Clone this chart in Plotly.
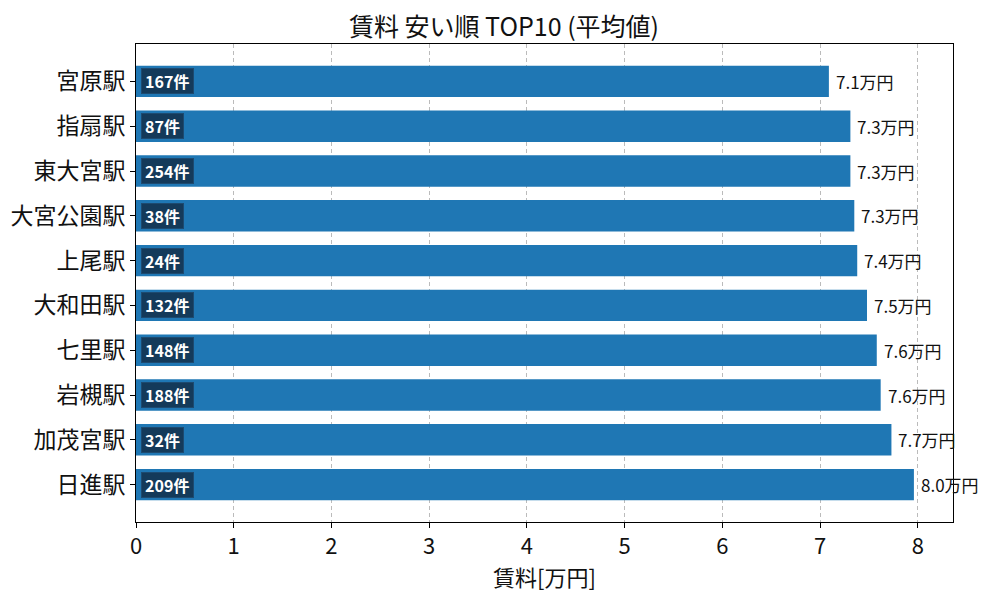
import plotly.graph_objects as go

stations = ["宮原駅", "指扇駅", "東大宮駅", "大宮公園駅", "上尾駅", "大和田駅", "七里駅", "岩槻駅", "加茂宮駅", "日進駅"]
rent = [7.09, 7.31, 7.31, 7.35, 7.38, 7.48, 7.58, 7.62, 7.73, 7.96]
counts = [167, 87, 254, 38, 24, 132, 148, 188, 32, 209]
x_ticks = [0, 1, 2, 3, 4, 5, 6, 7, 8]

FONT = "Noto Sans CJK JP"

fig = go.Figure()
fig.add_trace(go.Bar(
    x=rent, y=stations, orientation="h", width=0.7,
    marker=dict(color="#1f77b4", line=dict(width=0)),
    hoverinfo="skip",
))

for s, v, c in zip(stations, rent, counts):
    label = f"{c}件"
    fig.add_annotation(
        x=0, y=s, xref="x", yref="y", text=f"<b>{label}</b>", showarrow=False,
        xanchor="left", xshift=5, font=dict(family=FONT, size=16, color="white"),
        bgcolor="#143a5a", bordercolor="#1d4a70", borderwidth=1, borderpad=0,
        height=24, width=len(str(c)) * 9.5 + 22, align="center",
    )
    fig.add_annotation(
        x=v, y=s, xref="x", yref="y", text=f"{v:.1f}万円", showarrow=False,
        xanchor="left", xshift=5, font=dict(family=FONT, size=17, color="#111"),
    )

n = len(stations)
fig.update_layout(
    width=992, height=592,
    margin=dict(l=128, r=47, t=36, b=78, autoexpand=False),
    paper_bgcolor="white", plot_bgcolor="white",
    title=dict(text="賃料 安い順 TOP10 (平均値)", x=0.5, xanchor="center", y=0.968, yanchor="middle",
               font=dict(family=FONT, size=25, color="#111")),
    showlegend=False,
    font=dict(family=FONT),
)
fig.update_xaxes(
    range=[0, 8.36], tickvals=x_ticks, ticktext=[str(t) for t in x_ticks],
    tickfont=dict(family=FONT, size=22, color="#111"),
    showgrid=True, gridcolor="rgba(170,170,170,0.8)", griddash="4px,3px", gridwidth=1,
    showline=True, linecolor="black", linewidth=1, mirror=True,
    ticks="outside", ticklen=5, tickcolor="black", zeroline=False, automargin=False,
    title=dict(text="賃料[万円]", font=dict(family=FONT, size=22, color="#111"), standoff=6),
)
fig.update_yaxes(
    type="category", range=[n - 1 + 0.835, -0.835], tickfont=dict(family=FONT, size=23, color="#111"),
    showgrid=False, showline=True, linecolor="black", linewidth=1, mirror=True,
    ticks="outside", ticklen=5, tickcolor="black", automargin=False,
)

fig.write_html("out.html")
